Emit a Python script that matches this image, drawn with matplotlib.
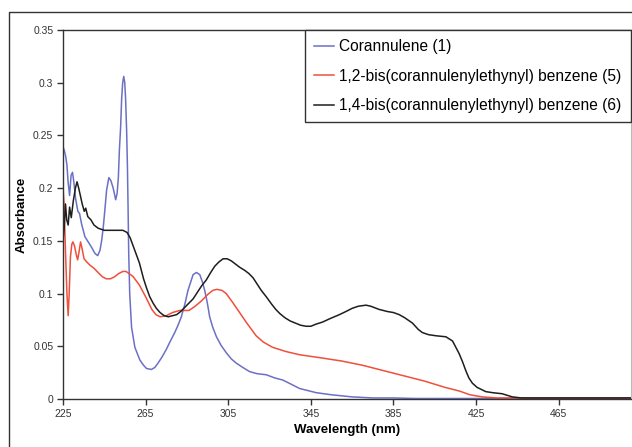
import matplotlib
matplotlib.use("Agg")
import matplotlib.pyplot as plt
from matplotlib.lines import Line2D

# --- data --------------------------------------------------------------
wl_cor = [225, 225.6, 226.3, 226.9, 227.5, 228.2, 228.9, 229.6, 230.3, 231.1,
          232.2, 233.0, 234.0, 235.6, 237.2, 238.8, 240.5, 241.8, 242.9, 243.7,
          244.5, 245.3, 246.1, 247.2, 248.2, 249.3, 250.5, 251.2, 251.8, 252.3,
          252.9, 253.4, 253.9, 254.4, 254.9, 255.3, 255.8, 256.2, 256.5, 256.8,
          257.3, 258.2, 259.8, 262.2, 264.0, 265.4, 267.8, 269.5, 271.0, 273.0,
          275.0, 277.0, 279.1, 280.7, 282.3, 284.0, 285.5, 287.0, 288.0, 289.6,
          291.2, 292.5, 293.6, 294.8, 296.0, 297.5, 299.3, 301.5, 304.0, 306.5,
          308.9, 312.0, 315.3, 319.0, 323.4, 327.5, 331.4, 335.5, 339.5, 343.5,
          347.6, 355.0, 365.0, 375.0, 385.0, 395.0, 410.0, 430.0, 450.0, 470.0,
          500.0]
abs_cor = [0.239, 0.236, 0.230, 0.222, 0.205, 0.193, 0.212, 0.215, 0.205, 0.190,
           0.178, 0.176, 0.166, 0.154, 0.149, 0.144, 0.138, 0.136, 0.141, 0.150,
           0.163, 0.180, 0.198, 0.210, 0.207, 0.200, 0.189, 0.195, 0.210, 0.236,
           0.258, 0.285, 0.300, 0.306, 0.300, 0.285, 0.255, 0.220, 0.182, 0.140,
           0.100, 0.068, 0.049, 0.037, 0.032, 0.029, 0.028, 0.030, 0.034, 0.040,
           0.047, 0.055, 0.063, 0.070, 0.078, 0.090, 0.103, 0.112, 0.118, 0.120,
           0.118, 0.111, 0.103, 0.092, 0.078, 0.068, 0.059, 0.051, 0.044, 0.038,
           0.034, 0.030, 0.026, 0.024, 0.023, 0.020, 0.018, 0.014, 0.010, 0.008,
           0.006, 0.004, 0.002, 0.001, 0.001, 0.0005, 0.0005, 0.0005, 0.0005, 0.0005,
           0.0005]

wl_12 = [225, 225.5, 226.2, 226.9, 227.5, 228.0, 228.6, 229.3, 229.8, 230.6,
         231.4, 232.1, 232.8, 233.5, 234.2, 235.2, 236.5, 238.0, 240.0, 242.0,
         244.0, 246.0, 248.0, 250.0, 252.0, 254.0, 255.5, 257.0, 259.0, 262.0,
         265.0, 268.0, 270.0, 272.0, 275.0, 278.0, 281.5, 286.0, 289.0, 292.0,
         295.0, 297.5, 299.5, 302.0, 304.0, 307.0, 310.5, 314.0, 318.5, 322.0,
         326.5, 333.0, 339.5, 350.0, 360.0, 370.0, 380.0, 390.0, 400.0, 410.0,
         417.0, 422.0, 428.0, 435.0, 460.0, 500.0]
abs_12 = [0.200, 0.185, 0.140, 0.100, 0.079, 0.100, 0.135, 0.147, 0.149, 0.145,
          0.137, 0.132, 0.140, 0.149, 0.143, 0.133, 0.130, 0.127, 0.124, 0.120,
          0.116, 0.114, 0.114, 0.116, 0.119, 0.121, 0.121, 0.119, 0.116, 0.108,
          0.097, 0.085, 0.080, 0.078, 0.079, 0.082, 0.084, 0.084, 0.088, 0.093,
          0.099, 0.103, 0.104, 0.103, 0.100, 0.092, 0.082, 0.072, 0.060, 0.054,
          0.049, 0.045, 0.042, 0.039, 0.036, 0.032, 0.027, 0.022, 0.017, 0.011,
          0.0075, 0.004, 0.002, 0.001, 0.001, 0.001]

wl_14 = [225, 225.5, 226.2, 226.8, 227.5, 228.2, 229.0, 230.0, 231.0, 231.8,
         232.6, 233.4, 234.3, 235.3, 236.0, 237.0, 238.5, 240.0, 242.0, 245.0,
         250.0, 254.0, 256.0, 257.5, 259.0, 260.5, 262.0, 264.0, 265.5, 267.0,
         268.6, 270.2, 272.0, 274.0, 276.0, 278.0, 280.0, 282.0, 284.0, 286.0,
         288.0, 290.0, 292.0, 294.4, 296.5, 298.5, 300.5, 302.5, 304.5, 306.5,
         308.5, 310.5, 313.0, 315.0, 317.0, 319.0, 321.0, 323.4, 326.0, 328.0,
         330.0, 332.5, 335.0, 337.5, 340.0, 342.7, 345.0, 347.5, 350.7, 354.0,
         358.8, 362.0, 365.0, 368.0, 371.7, 374.0, 378.0, 382.0, 385.0, 387.8,
         390.5, 394.2, 397.0, 399.0, 402.0, 405.5, 410.4, 413.6, 416.8, 418.5,
         420.0, 421.5, 423.2, 425.5, 429.7, 433.0, 437.6, 442.5, 447.0, 460.0,
         480.0, 500.0]
abs_14 = [0.150, 0.160, 0.185, 0.170, 0.165, 0.182, 0.172, 0.188, 0.200, 0.206,
          0.200, 0.193, 0.185, 0.178, 0.181, 0.173, 0.170, 0.165, 0.162, 0.160,
          0.160, 0.160, 0.158, 0.153, 0.145, 0.137, 0.129, 0.114, 0.105, 0.097,
          0.091, 0.086, 0.082, 0.079, 0.078, 0.079, 0.080, 0.083, 0.087, 0.091,
          0.095, 0.101, 0.107, 0.113, 0.120, 0.126, 0.130, 0.133, 0.133, 0.131,
          0.128, 0.125, 0.122, 0.119, 0.115, 0.109, 0.103, 0.097, 0.090, 0.085,
          0.081, 0.077, 0.074, 0.072, 0.070, 0.069, 0.069, 0.071, 0.073, 0.076,
          0.080, 0.083, 0.086, 0.088, 0.089, 0.088, 0.085, 0.083, 0.082, 0.080,
          0.077, 0.072, 0.066, 0.063, 0.061, 0.060, 0.059, 0.055, 0.043, 0.035,
          0.027, 0.020, 0.015, 0.011, 0.007, 0.006, 0.005, 0.002, 0.001, 0.001,
          0.001, 0.001]

series_labels = ["Corannulene (1)",
                 "1,2-bis(corannulenylethynyl) benzene (5)",
                 "1,4-bis(corannulenylethynyl) benzene (6)"]
x_ticks = [225, 265, 305, 345, 385, 425, 465]
y_ticks = [0, 0.05, 0.1, 0.15, 0.2, 0.25, 0.3, 0.35]
y_tick_labels = ["0", "0.05", "0.1", "0.15", "0.2", "0.25", "0.3", "0.35"]

COLORS = ["#6b70c6", "#ef4f3b", "#1e1e1e"]

plt.rcParams["font.family"] = ["Liberation Sans", "DejaVu Sans"]

fig = plt.figure(figsize=(6.32, 4.47), dpi=100)
ax = fig.add_axes([63 / 632, 1 - 399 / 447, 568 / 632, 369 / 447])

for wl, ab, color, label in zip([wl_cor, wl_12, wl_14], [abs_cor, abs_12, abs_14], COLORS, series_labels):
    ax.plot(wl, ab, color=color, lw=1.1, label=label)

ax.set_xlim(225, 500)
ax.set_ylim(0, 0.35)
ax.set_xticks(x_ticks)
ax.set_yticks(y_ticks)
ax.set_yticklabels(y_tick_labels)
ax.tick_params(direction="out", length=4, width=1, labelsize=7.5, colors="#333333", pad=3)

for side in ["left", "bottom", "top"]:
    ax.spines[side].set_color("#333333")
    ax.spines[side].set_linewidth(1)
ax.spines["right"].set_color("#bbbbbb")

ax.set_xlabel("Wavelength (nm)", fontsize=9.5, fontweight="bold", labelpad=4)
ax.set_ylabel("Absorbance", fontsize=9.5, fontweight="bold", labelpad=4)

leg = ax.legend(loc="upper right", bbox_to_anchor=(1.0, 1.0), borderaxespad=0,
                fontsize=11.2, fancybox=False, framealpha=1, edgecolor="#333333",
                handlelength=1.3, handletextpad=0.32, labelspacing=0.92,
                borderpad=0.6)
leg.get_frame().set_linewidth(1)

# chart-area border (clipped on the right and bottom in the reference)
fig.add_artist(Line2D([9 / 632, 9 / 632, 1.0], [0.0, 1 - 12 / 447, 1 - 12 / 447],
                      transform=fig.transFigure, color="#333333", lw=1))

fig.savefig("out.png", dpi=100)
